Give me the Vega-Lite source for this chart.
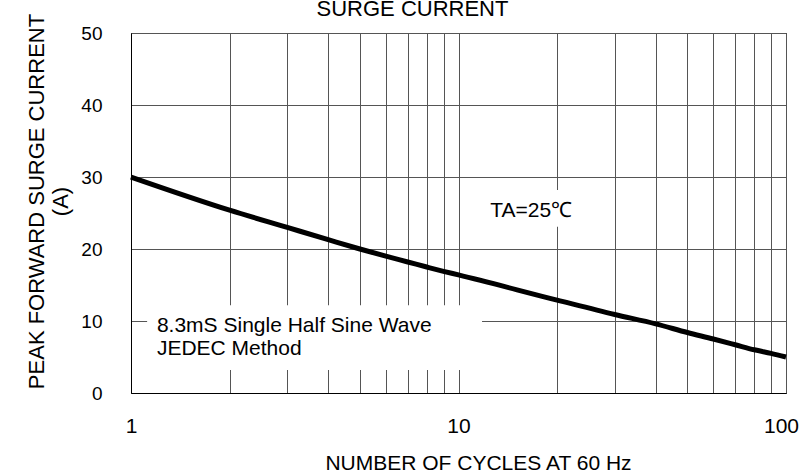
{
  "$schema": "https://vega.github.io/schema/vega-lite/v6.json",
  "width": 655,
  "height": 360,
  "autosize": {"type": "none"},
  "padding": {"left": 131, "top": 33, "right": 15, "bottom": 83},
  "background": "white",
  "config": {
    "font": "Liberation Sans",
    "view": {"stroke": "black", "strokeWidth": 1}
  },
  "title": {
    "text": "SURGE CURRENT",
    "fontSize": 22,
    "fontWeight": "normal",
    "color": "black",
    "anchor": "middle",
    "frame": "group",
    "dx": -46,
    "dy": 25,
    "offset": 0,
    "baseline": "alphabetic"
  },
  "datasets": {
    "curve": [
      {"cycles": 1, "current": 30},
      {"cycles": 2, "current": 25.4},
      {"cycles": 3, "current": 23},
      {"cycles": 4, "current": 21.3},
      {"cycles": 5, "current": 20},
      {"cycles": 6, "current": 19.0},
      {"cycles": 7, "current": 18.2},
      {"cycles": 8, "current": 17.5},
      {"cycles": 9, "current": 16.9},
      {"cycles": 10, "current": 16.4},
      {"cycles": 20, "current": 12.9},
      {"cycles": 30, "current": 10.9},
      {"cycles": 40, "current": 9.6},
      {"cycles": 50, "current": 8.4},
      {"cycles": 60, "current": 7.5},
      {"cycles": 70, "current": 6.7},
      {"cycles": 80, "current": 6.0},
      {"cycles": 90, "current": 5.5},
      {"cycles": 100, "current": 5}
    ],
    "boxes": [
      {"x1": 1.12, "x2": 11.8, "y1": 3.2, "y2": 12.2},
      {"x1": 12.05, "x2": 23.2, "y1": 23.1, "y2": 28.2}
    ],
    "notes": [
      {"label": "8.3mS Single Half Sine Wave", "x": 1.2, "y": 8.5},
      {"label": "JEDEC Method", "x": 1.2, "y": 5.3},
      {"label": "TA=25℃", "x": 12.5, "y": 24.4}
    ]
  },
  "layer": [
    {
      "data": {"name": "boxes"},
      "mark": {"type": "rect", "fill": "white", "stroke": null},
      "encoding": {
        "x": {
          "field": "x1", "type": "quantitative",
          "scale": {"type": "log", "domain": [1, 100]},
          "axis": {
            "values": [1, 2, 3, 4, 5, 6, 7, 8, 9, 10, 20, 30, 40, 50, 60, 70, 80, 90, 100],
            "labelExpr": "datum.value == 1 || datum.value == 10 || datum.value == 100 ? format(datum.value, 'd') : ''",
            "labelFlush": false,
            "labelFontSize": 21,
            "labelColor": "black",
            "labelPadding": 22,
            "labelOffset": {"condition": {"test": "datum.value == 100", "value": -5}, "value": 0},
            "tickSize": 0,
            "domainColor": "black",
            "gridColor": "#555",
            "gridOpacity": 1,
            "title": "NUMBER OF CYCLES AT 60 Hz",
            "titleFontSize": 21,
            "titleFontWeight": "normal",
            "titleColor": "black",
            "titleX": 347,
            "titleY": 70,
            "titleBaseline": "middle"
          }
        },
        "x2": {"field": "x2"},
        "y": {
          "field": "y1", "type": "quantitative",
          "scale": {"domain": [0, 50]},
          "axis": {
            "values": [0, 10, 20, 30, 40, 50],
            "labelFontSize": 19,
            "labelColor": "black",
            "labelPadding": 29,
            "tickSize": 0,
            "domainColor": "black",
            "gridColor": "#555",
            "gridOpacity": 1,
            "title": ["PEAK FORWARD SURGE CURRENT", "(A)"],
            "titleFontSize": 22,
            "titleFontWeight": "normal",
            "titleColor": "black",
            "titleLineHeight": 24,
            "titleAngle": -90,
            "titleX": -95,
            "titleY": 168,
            "titleAlign": "center",
            "titleBaseline": "middle"
          }
        },
        "y2": {"field": "y2"}
      }
    },
    {
      "data": {"name": "curve"},
      "mark": {"type": "line", "color": "black", "strokeWidth": 5, "interpolate": "monotone"},
      "encoding": {
        "x": {"field": "cycles", "type": "quantitative"},
        "y": {"field": "current", "type": "quantitative"}
      }
    },
    {
      "data": {"name": "notes"},
      "mark": {"type": "text", "align": "left", "baseline": "alphabetic", "fontSize": 21, "color": "black"},
      "encoding": {
        "x": {"field": "x", "type": "quantitative"},
        "y": {"field": "y", "type": "quantitative"},
        "text": {"field": "label"}
      }
    }
  ]
}
